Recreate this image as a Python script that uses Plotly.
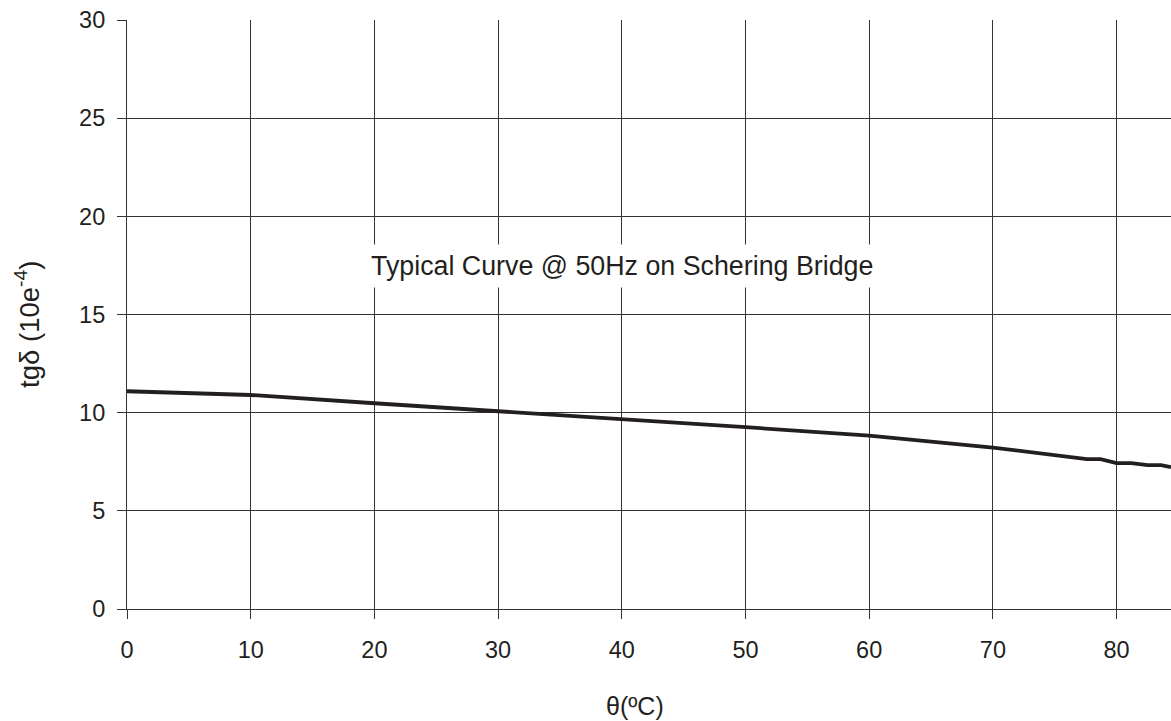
import plotly.graph_objects as go

temperature_c = [0, 10, 20, 30, 40, 50, 60, 65.7, 70, 77.6, 78.7, 80, 81.2, 82.5, 83.6, 84.4]
tan_delta = [11.09, 10.9, 10.48, 10.08, 9.65, 9.26, 8.83, 8.48, 8.22, 7.63, 7.63, 7.43, 7.43, 7.33, 7.33, 7.22]

x_ticks = [0, 10, 20, 30, 40, 50, 60, 70, 80]
y_ticks = [0, 5, 10, 15, 20, 25, 30]

font_family = "Liberation Sans, Arial, Helvetica, sans-serif"
ink = "#231f20"
grid = "#333333"

fig = go.Figure()
fig.add_trace(go.Scatter(
    x=temperature_c, y=tan_delta, mode="lines",
    line=dict(color=ink, width=3.8), showlegend=False, hoverinfo="skip",
))

fig.add_annotation(
    x=40.05, y=17.45, xref="x", yref="y",
    text="Typical Curve @ 50Hz on Schering Bridge",
    showarrow=False, bgcolor="white",
    font=dict(family=font_family, size=26.8, color=ink),
    borderpad=6,
)

# axis titles
fig.add_annotation(
    x=0.487, y=-0.164, xref="paper", yref="paper",
    text="θ(ºC)", showarrow=False, xanchor="center", yanchor="middle",
    font=dict(family=font_family, size=25, color=ink),
)
fig.add_annotation(
    x=-0.0948, y=0.4824, xref="paper", yref="paper",
    text="tgδ (10e<sup>-4</sup>)", showarrow=False, textangle=-90,
    xanchor="center", yanchor="middle",
    font=dict(family=font_family, size=27.5, color=ink),
)

fig.update_layout(
    width=1171, height=721,
    margin=dict(l=127, r=0, t=20, b=112),
    paper_bgcolor="white", plot_bgcolor="white",
    font=dict(family=font_family, color=ink, size=23.5),
    xaxis=dict(
        range=[0, 84.4], tickvals=x_ticks, ticktext=[str(v) for v in x_ticks],
        showgrid=True, gridcolor=grid, gridwidth=1.1,
        ticks="outside", ticklen=9, tickcolor=grid, tickwidth=1.1,
        showline=True, linecolor=grid, linewidth=1.1,
        zeroline=False, ticklabelstandoff=11,
        tickfont=dict(size=23.5),
    ),
    yaxis=dict(
        range=[0, 30], tickvals=y_ticks, ticktext=[str(v) for v in y_ticks],
        showgrid=True, gridcolor=grid, gridwidth=1.1,
        ticks="outside", ticklen=9, tickcolor=grid, tickwidth=1.1,
        showline=True, linecolor=grid, linewidth=1.1,
        zeroline=False, ticklabelstandoff=7,
        tickfont=dict(size=23.5),
    ),
)

fig.write_html("out.html")
